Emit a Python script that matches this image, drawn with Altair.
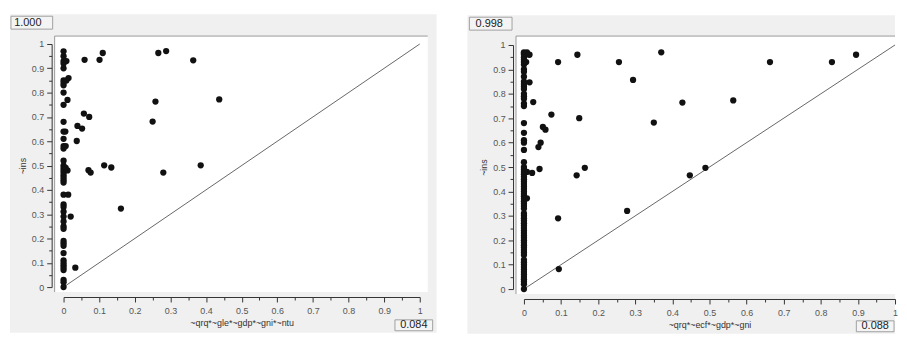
import altair as alt
import pandas as pd

# ---------------- data ----------------
# left panel: ~qrq*~gle*~gdp*~gni*~ntu  vs  ~ins
left_col_y = [0.97, 0.95, 0.93, 0.92, 0.90, 0.85, 0.84, 0.83, 0.80, 0.75, 0.68, 0.64,
              0.61, 0.58, 0.57, 0.52, 0.50, 0.49, 0.48, 0.47, 0.46, 0.45, 0.44, 0.43,
              0.38, 0.34, 0.33, 0.31, 0.29, 0.27, 0.25, 0.24, 0.19, 0.18, 0.17, 0.14,
              0.11, 0.10, 0.09, 0.08, 0.07, 0.03, 0.02, 0.0]
left_col_x = [0.0] * len(left_col_y)
left_pts_x = [0.008, 0.014, 0.008, 0.011, 0.005, 0.006, 0.011, 0.006, 0.013, 0.020, 0.033,
              0.059, 0.101, 0.110, 0.266, 0.288, 0.364, 0.437, 0.258, 0.250, 0.057, 0.072,
              0.039, 0.052, 0.037, 0.070, 0.076, 0.114, 0.134, 0.280, 0.385, 0.161]
left_pts_y = [0.93, 0.86, 0.85, 0.77, 0.64, 0.58, 0.48, 0.49, 0.38, 0.29, 0.08,
              0.935, 0.935, 0.963, 0.963, 0.971, 0.933, 0.772, 0.763, 0.681, 0.714, 0.700,
              0.663, 0.652, 0.601, 0.481, 0.471, 0.501, 0.492, 0.471, 0.501, 0.323]

# right panel: ~qrq*~ecf*~gdp*~gni  vs  ~ins
right_col_y = [0.97, 0.965, 0.96, 0.95, 0.94, 0.93, 0.92, 0.90, 0.89, 0.87, 0.85, 0.84,
               0.83, 0.82, 0.80, 0.79, 0.78, 0.76, 0.75, 0.68, 0.64, 0.61, 0.60, 0.57,
               0.52, 0.50, 0.49, 0.48, 0.47, 0.46, 0.45, 0.44, 0.43, 0.42, 0.41, 0.40,
               0.39, 0.38, 0.37, 0.36, 0.35, 0.34, 0.33, 0.31, 0.30, 0.29, 0.28, 0.27,
               0.26, 0.25, 0.24, 0.23, 0.22, 0.21, 0.20, 0.19, 0.18, 0.17, 0.16, 0.15,
               0.14, 0.12, 0.11, 0.10, 0.09, 0.08, 0.07, 0.06, 0.05, 0.04, 0.03, 0.02, 0.0]
right_col_x = [0.0] * len(right_col_y)
right_pts_x = [0.008, 0.011, 0.015, 0.006, 0.015, 0.025, 0.008, 0.022, 0.042, 0.008,
               0.092, 0.144, 0.256, 0.370, 0.294, 0.663, 0.830, 0.895, 0.427, 0.564,
               0.350, 0.074, 0.149, 0.051, 0.058, 0.045, 0.039, 0.142, 0.164, 0.447,
               0.489, 0.278, 0.092, 0.094]
right_pts_y = [0.97, 0.962, 0.96, 0.93, 0.847, 0.766, 0.48, 0.476, 0.492, 0.372,
               0.93, 0.96, 0.93, 0.97, 0.857, 0.93, 0.93, 0.96, 0.764, 0.773,
               0.682, 0.715, 0.70, 0.664, 0.653, 0.600, 0.582, 0.466, 0.497, 0.466,
               0.497, 0.32, 0.29, 0.082]

diag_x = [0, 1]
diag_y = [0, 1]

tick_vals = [0, 0.05, 0.1, 0.15, 0.2, 0.25, 0.3, 0.35, 0.4, 0.45, 0.5,
             0.55, 0.6, 0.65, 0.7, 0.75, 0.8, 0.85, 0.9, 0.95, 1.0]

left_titles = ("~qrq*~gle*~gdp*~gni*~ntu", "~ins")
right_titles = ("~qrq*~ecf*~gdp*~gni", "~ins")
left_boxes = ("1.000", "0.084")
right_boxes = ("0.998", "0.088")

# ---------------- helpers ----------------
MAJOR = "abs(datum.value*10 - round(datum.value*10)) < 0.001"
FONT = "Liberation Sans"


def make_axis(title, offset, title_pad, orient, label_pad):
    return alt.Axis(
        values=tick_vals, title=title, grid=False, offset=offset, orient=orient,
        labelExpr=f"{MAJOR} ? format(datum.value, '~g') : ''",
        tickSize=alt.condition(MAJOR, alt.value(5), alt.value(3)),
        labelOverlap=False, labelFlush=False, labelPadding=label_pad,
        titlePadding=title_pad, zindex=2,
        domainColor="#333333", tickColor="#333333",
        labelColor="#555555", labelFont=FONT, labelFontSize=9,
        titleColor="#333333", titleFont=FONT, titleFontSize=9, titleFontWeight="normal",
    )


def panel(xs, ys, titles, boxes, W, H, xrange, yrange, gray, topbox, botbox):
    one = alt.Chart(pd.DataFrame({"k": [0]}))
    bg = one.mark_rect(fill="#f0f0f0").encode(
        x=alt.value(gray[0]), x2=alt.value(gray[1]),
        y=alt.value(gray[2]), y2=alt.value(gray[3]))
    frame = one.mark_rect(fill="white").encode(
        x=alt.value(0), x2=alt.value(W), y=alt.value(0), y2=alt.value(H))
    top_edge = one.mark_rule(color="#9a9a9a", strokeWidth=1).encode(
        x=alt.value(0), x2=alt.value(W), y=alt.value(0))
    left_edge = one.mark_rule(color="#9a9a9a", strokeWidth=1).encode(
        x=alt.value(0), y=alt.value(0), y2=alt.value(H))
    xs_ = alt.Scale(domain=[0, 1], range=xrange, nice=False, zero=False)
    ys_ = alt.Scale(domain=[0, 1], range=yrange, nice=False, zero=False)
    xa = make_axis(titles[0], 5, 3, "bottom", 5)
    ya = make_axis(titles[1], 3, 4, "left", 3)
    diag = alt.Chart(pd.DataFrame({"x": diag_x, "y": diag_y})).mark_line(
        color="#404040", strokeWidth=0.8).encode(
        x=alt.X("x:Q", scale=xs_, axis=xa), y=alt.Y("y:Q", scale=ys_, axis=ya))
    pts = alt.Chart(pd.DataFrame({"x": xs, "y": ys})).mark_circle(
        size=40, color="#111111", opacity=1).encode(
        x=alt.X("x:Q", scale=xs_, axis=xa), y=alt.Y("y:Q", scale=ys_, axis=ya))
    layers = [bg, frame, top_edge, left_edge, diag, pts]
    for (bx0, bx1, by0, by1, tx, ty), label in ((topbox, boxes[0]), (botbox, boxes[1])):
        layers.append(one.mark_rect(fill="#f4f4f4", stroke="#a0a0a0", strokeWidth=1).encode(
            x=alt.value(bx0), x2=alt.value(bx1), y=alt.value(by0), y2=alt.value(by1)))
        layers.append(one.mark_text(font=FONT, fontSize=11, color="#222222",
                                    align="center", baseline="middle").encode(
            x=alt.value(tx), y=alt.value(ty), text=alt.value(label)))
    return alt.layer(*layers).properties(width=W, height=H)


left = panel(left_col_x + left_pts_x, left_col_y + left_pts_y, left_titles, left_boxes,
             376, 258, [9, 368], [253, 8], (-45, 385, -22, 299),
             (-44, -2, -20, -7, -27, -13.5), (343, 381, 286, 297, 362, 291.5))
right = panel(right_col_x + right_pts_x, right_col_y + right_pts_y, right_titles, right_boxes,
              382, 260, [8, 382], [255, 9], (-49, 382, -21, 300),
              (-47, -4, -19, -6, -27, -12.5), (343, 381, 287, 298, 362, 292.5))

chart = alt.hconcat(left, right, spacing=29).properties(
    padding={"left": 1, "top": 4, "right": 0, "bottom": 0},
    background="white",
).configure_view(stroke="transparent")

chart.save("out.html", embed_options={"renderer": "svg", "actions": False})
